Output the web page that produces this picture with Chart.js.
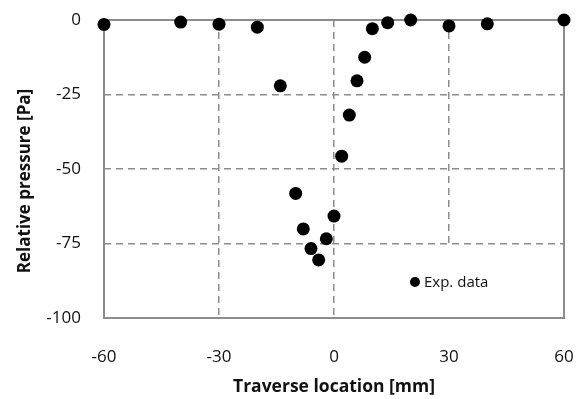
<!DOCTYPE html>
<html>
<head>
<meta charset="utf-8">
<script src="https://cdn.jsdelivr.net/npm/chart.js@4"></script>
<style>
  html, body { margin: 0; padding: 0; background: #fff; }
  canvas { display: block; }
</style>
</head>
<body>
<canvas id="chart" width="577" height="399"></canvas>
<script>
// === Relative pressure across the traverse ===

const traverseMm = [-60, -40, -30, -20, -14, -10, -8, -6, -4, -2, 0, 2, 4, 6, 8, 10, 14, 20, 30, 40, 60];
const pressurePa = [-1.5, -0.7, -1.4, -2.4, -22.1, -58.2, -70.1, -76.7, -80.5, -73.4, -65.8, -45.7, -31.9, -20.4, -12.5, -2.9, -0.9, 0, -2.0, -1.3, 0];

const xTicks = [-60, -30, 0, 30, 60];
const yTicks = [0, -25, -50, -75, -100];

const seriesLabel = 'Exp. data';
const xTitle = 'Traverse location [mm]';
const yTitle = 'Relative pressure [Pa]';

const FONT = "'Open Sans', sans-serif";
const GRID = '#8c8c8c';

function drawFrame(chart) {
  const { ctx, chartArea: a } = chart;
  const l = Math.round(a.left), r = Math.round(a.right);
  const t = Math.round(a.top), b = Math.round(a.bottom);
  ctx.save();
  ctx.globalCompositeOperation = 'source-over';
  ctx.fillStyle = GRID;
  ctx.fillRect(l - 1, t - 1, r - l + 2, 2);
  ctx.fillRect(l - 1, b - 1, r - l + 2, 2);
  ctx.fillRect(l - 1, t - 1, 2, b - t + 2);
  ctx.fillRect(r - 1, t - 1, 2, b - t + 2);
  ctx.restore();
}

// Legend box, frame (under the dots), y title
const framePlugin = {
  id: 'plotFrame',
  beforeDatasetsDraw(chart) {
    const { ctx, chartArea: a } = chart;
    ctx.save();
    // legend box hides the grid underneath it
    ctx.fillStyle = '#fff';
    ctx.fillRect(a.right - 200, a.bottom - 71, 199, 70);
    ctx.restore();
    drawFrame(chart);
  },
  afterDraw(chart) {
    const { ctx, chartArea: a } = chart;
    // y axis title
    ctx.save();
    ctx.translate(25, 181);
    ctx.rotate(-Math.PI / 2);
    ctx.font = 'bold 17px ' + FONT;
    ctx.textAlign = 'center';
    ctx.textBaseline = 'middle';
    ctx.fillStyle = '#111';
    ctx.fillText(yTitle, 0, 0);
    ctx.restore();
    // legend
    const x = a.right - 149;
    const y = a.bottom - 36;
    ctx.save();
    ctx.fillStyle = '#000';
    ctx.beginPath();
    ctx.arc(x, y, 5, 0, Math.PI * 2);
    ctx.fill();
    ctx.font = '15px ' + FONT;
    ctx.textBaseline = 'middle';
    ctx.fillStyle = '#111';
    ctx.fillText(seriesLabel, x + 9, y + 1);
    ctx.restore();
  }
};

const dashedGrid = {
  color: ctx => (ctx.index === 0 || ctx.index === 4) ? 'rgba(0,0,0,0)' : GRID,
  lineWidth: 1.5,
  drawTicks: false,
};

new Chart(document.getElementById('chart'), {
  type: 'scatter',
  data: {
    datasets: [{
      label: seriesLabel,
      data: traverseMm.map((x, i) => ({ x, y: pressurePa[i] })),
      backgroundColor: '#000',
      borderWidth: 0,
      pointRadius: 6.5,
      pointHoverRadius: 6.5,
      clip: false,
    }],
  },
  options: {
    responsive: false,
    animation: false,
    layout: { padding: { top: 20, right: 13, left: 0, bottom: 0 } },
    plugins: {
      legend: { display: false },
      tooltip: { enabled: false },
    },
    scales: {
      x: {
        type: 'linear',
        min: -60,
        max: 60,
        afterBuildTicks: s => { s.ticks = xTicks.map(v => ({ value: v })); },
        afterFit: s => { s.height = 81; s.paddingLeft = 0; s.paddingRight = 0; },
        grid: dashedGrid,
        border: { display: false, dash: [7, 5] },
        ticks: { padding: 29, color: '#111', font: { family: FONT, size: 17 } },
        title: {
          display: true,
          text: xTitle,
          color: '#111',
          font: { family: FONT, size: 17.5, weight: 'bold' },
          padding: { top: 0, bottom: 1 },
        },
      },
      y: {
        type: 'linear',
        min: -100,
        max: 0,
        afterBuildTicks: s => { s.ticks = yTicks.map(v => ({ value: v })); },
        afterFit: s => { s.width = 104; s.paddingTop = 0; s.paddingBottom = 0; },
        grid: dashedGrid,
        border: { display: false, dash: [7, 5] },
        ticks: { padding: 23, color: '#111', font: { family: FONT, size: 17 } },
        title: { display: false, text: yTitle },
      },
    },
  },
  plugins: [framePlugin],
});
</script>
</body>
</html>
